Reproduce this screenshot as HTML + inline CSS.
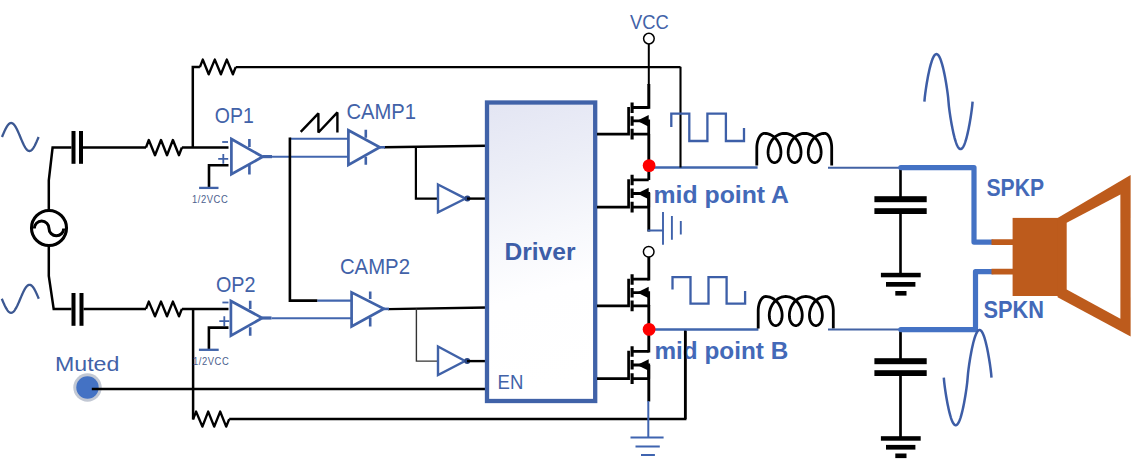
<!DOCTYPE html>
<html><head><meta charset="utf-8"><style>
html,body{margin:0;padding:0;background:#fff;}
svg{display:block;font-family:"Liberation Sans", sans-serif;}
</style></head><body>
<svg width="1131" height="459" viewBox="0 0 1131 459">
<rect width="1131" height="459" fill="#fff"/>
<polyline points="2.00,137.00 2.31,136.27 2.61,135.54 2.92,134.81 3.22,134.09 3.52,133.38 3.83,132.67 4.13,131.98 4.44,131.31 4.75,130.64 5.05,130.00 5.36,129.38 5.66,128.77 5.96,128.19 6.27,127.63 6.58,127.10 6.88,126.60 7.19,126.12 7.49,125.67 7.79,125.26 8.10,124.88 8.41,124.53 8.71,124.21 9.02,123.93 9.32,123.69 9.62,123.48 9.93,123.31 10.24,123.17 10.54,123.08 10.85,123.02 11.15,123.00 11.46,123.02 11.76,123.08 12.07,123.17 12.37,123.31 12.68,123.48 12.98,123.69 13.29,123.93 13.59,124.21 13.90,124.53 14.20,124.88 14.51,125.26 14.81,125.67 15.12,126.12 15.42,126.60 15.73,127.10 16.03,127.63 16.34,128.19 16.64,128.77 16.95,129.38 17.25,130.00 17.55,130.64 17.86,131.31 18.16,131.98 18.47,132.67 18.77,133.38 19.08,134.09 19.39,134.81 19.69,135.54 20.00,136.27 20.30,137.00 20.61,137.73 20.91,138.46 21.21,139.19 21.52,139.91 21.82,140.62 22.13,141.33 22.44,142.02 22.74,142.69 23.04,143.36 23.35,144.00 23.66,144.62 23.96,145.23 24.27,145.81 24.57,146.37 24.88,146.90 25.18,147.40 25.49,147.88 25.79,148.33 26.10,148.74 26.40,149.12 26.71,149.47 27.01,149.79 27.32,150.07 27.62,150.31 27.93,150.52 28.23,150.69 28.54,150.83 28.84,150.92 29.15,150.98 29.45,151.00 29.75,150.98 30.06,150.92 30.37,150.83 30.67,150.69 30.98,150.52 31.28,150.31 31.59,150.07 31.89,149.79 32.20,149.47 32.50,149.12 32.80,148.74 33.11,148.33 33.41,147.88 33.72,147.40 34.02,146.90 34.33,146.37 34.64,145.81 34.94,145.23 35.25,144.62 35.55,144.00 35.86,143.36 36.16,142.69 36.47,142.02 36.77,141.33 37.08,140.62 37.38,139.91 37.69,139.19 37.99,138.46 38.30,137.73 38.60,137.00" stroke="#3c5892" stroke-width="2.3" fill="none" stroke-linecap="butt" stroke-linejoin="round"/>
<polyline points="1.80,298.80 2.11,299.53 2.42,300.26 2.73,300.99 3.03,301.71 3.34,302.42 3.65,303.13 3.96,303.82 4.27,304.49 4.58,305.16 4.88,305.80 5.19,306.42 5.50,307.03 5.81,307.61 6.12,308.17 6.42,308.70 6.73,309.20 7.04,309.68 7.35,310.13 7.66,310.54 7.97,310.92 8.28,311.27 8.58,311.59 8.89,311.87 9.20,312.11 9.51,312.32 9.82,312.49 10.13,312.63 10.43,312.72 10.74,312.78 11.05,312.80 11.36,312.78 11.67,312.72 11.98,312.63 12.28,312.49 12.59,312.32 12.90,312.11 13.21,311.87 13.52,311.59 13.83,311.27 14.13,310.92 14.44,310.54 14.75,310.13 15.06,309.68 15.37,309.20 15.68,308.70 15.98,308.17 16.29,307.61 16.60,307.03 16.91,306.42 17.22,305.80 17.52,305.16 17.83,304.49 18.14,303.82 18.45,303.13 18.76,302.42 19.07,301.71 19.38,300.99 19.68,300.26 19.99,299.53 20.30,298.80 20.61,298.07 20.92,297.34 21.23,296.61 21.53,295.89 21.84,295.18 22.15,294.47 22.46,293.78 22.77,293.11 23.07,292.44 23.38,291.80 23.69,291.18 24.00,290.57 24.31,289.99 24.62,289.43 24.93,288.90 25.23,288.40 25.54,287.92 25.85,287.47 26.16,287.06 26.47,286.68 26.78,286.33 27.08,286.01 27.39,285.73 27.70,285.49 28.01,285.28 28.32,285.11 28.62,284.97 28.93,284.88 29.24,284.82 29.55,284.80 29.86,284.82 30.17,284.88 30.48,284.97 30.78,285.11 31.09,285.28 31.40,285.49 31.71,285.73 32.02,286.01 32.32,286.33 32.63,286.68 32.94,287.06 33.25,287.47 33.56,287.92 33.87,288.40 34.17,288.90 34.48,289.43 34.79,289.99 35.10,290.57 35.41,291.18 35.72,291.80 36.02,292.44 36.33,293.11 36.64,293.78 36.95,294.47 37.26,295.18 37.57,295.89 37.87,296.61 38.18,297.34 38.49,298.07 38.80,298.80" stroke="#3c5892" stroke-width="2.3" fill="none" stroke-linecap="butt" stroke-linejoin="round"/>
<path d="M71.5,147.6 H52.6 L48.8,180.3 V212 M83,147.5 H146" stroke="#000" stroke-width="2.5" fill="none" />
<path d="M48.8,244 V276 L53.7,309.1 H71.5 M83.5,309 H146" stroke="#000" stroke-width="2.5" fill="none" />
<circle cx="49" cy="228" r="17.5" stroke="#000" stroke-width="3.1" fill="none"/>
<path d="M34.3,228.4 A7.35,7.35 0 0 1 49,228.4 A7.35,7.35 0 0 0 63.7,228.4" stroke="#000" stroke-width="3.0" fill="none" />
<rect x="71.5" y="131" width="4" height="32.8" fill="#000"/>
<rect x="79" y="131" width="4" height="32.8" fill="#000"/>
<rect x="71.5" y="293" width="4" height="32.8" fill="#000"/>
<rect x="79.5" y="293" width="4" height="32.8" fill="#000"/>
<polyline points="146,147.5 148.8,140 155,155.2 161,140 167,155.2 172.9,140 179,155.2 181.9,147.5" stroke="#000" stroke-width="2.4" fill="none" stroke-linejoin="round"/>
<polyline points="146,308.9 148.8,301.6 155,316.3 161,301.6 167,316.3 172.9,301.6 179,316.3 181.9,308.9" stroke="#000" stroke-width="2.4" fill="none" stroke-linejoin="round"/>
<path d="M181.9,147.6 H228.5 M192.8,147.6 V67.1 H199.9" stroke="#000" stroke-width="2.5" fill="none" />
<polyline points="199.9,67.1 202.8,59.6 208.7,74.3 214.8,59.6 220.9,74.3 226.8,59.6 232.9,74.3 235.7,67.1" stroke="#000" stroke-width="2.4" fill="none" stroke-linejoin="round"/>
<path d="M235.7,67.1 H680.5" stroke="#000" stroke-width="2.4" fill="none" />
<path d="M181.9,308.9 H228.5 M193.1,308.9 V419.4" stroke="#000" stroke-width="2.5" fill="none" />
<polyline points="193,419.4 196.1,411.6 202.4,426.6 208.2,411.6 214.2,426.6 220.2,411.6 226.2,426.6 229.2,419.1" stroke="#000" stroke-width="2.4" fill="none" stroke-linejoin="round"/>
<path d="M229.2,419.1 H685.2 V329.4" stroke="#000" stroke-width="2.5" fill="none" />
<path d="M228.5,165.3 H209 V187.9" stroke="#000" stroke-width="2.6" fill="none" />
<path d="M199.1,187.9 H218.5" stroke="#4062a8" stroke-width="2.3" fill="none" />
<path d="M231.4,139.0 L262.7,156.8 L231.4,174.1 Z" stroke="#4062a8" stroke-width="2.7" fill="#fff" stroke-linejoin="miter"/>
<path d="M249.4,139 V147 M249.4,164.6 V174.4" stroke="#4062a8" stroke-width="2.6" fill="none"/>
<path d="M222.2,142 H228" stroke="#4062a8" stroke-width="1.8" fill="none" />
<path d="M218.2,158.8 H228.2 M223.3,154 V163.7" stroke="#4062a8" stroke-width="1.8" fill="none" />
<path d="M262.7,156.6 H272" stroke="#4062a8" stroke-width="3.2" fill="none" />
<path d="M272,156.7 H348.4" stroke="#4266ae" stroke-width="2.1" fill="none" />
<path d="M228.5,327.6 H208.9 V349.8" stroke="#000" stroke-width="2.6" fill="none" />
<path d="M198.9,349.8 H218.7" stroke="#4062a8" stroke-width="2.3" fill="none" />
<path d="M230.9,301.0 L262.2,318 L230.9,335.6 Z" stroke="#4062a8" stroke-width="2.7" fill="#fff" stroke-linejoin="miter"/>
<path d="M250.2,300.7 V309 M250.2,327.2 V335.8" stroke="#4062a8" stroke-width="2.6" fill="none"/>
<path d="M222.4,302.5 H228.5" stroke="#4062a8" stroke-width="1.8" fill="none" />
<path d="M219.3,321.1 H229.3 M224.3,316.3 V326" stroke="#4062a8" stroke-width="1.8" fill="none" />
<path d="M262.2,318 H271.5" stroke="#4062a8" stroke-width="3.2" fill="none" />
<path d="M271.5,318.2 H351.6" stroke="#4266ae" stroke-width="2.1" fill="none" />
<path d="M300.7,131.8 L318.4,113.3 V132.5 L337.4,112.4 V132.5" stroke="#000" stroke-width="2.4" fill="none" stroke-linejoin="bevel"/>
<path d="M290,138.7 H348.4" stroke="#4266ae" stroke-width="2.1" fill="none" />
<path d="M317.3,300.6 H351.6" stroke="#4266ae" stroke-width="2.1" fill="none" />
<path d="M289.9,137.6 V300.6 H317.3" stroke="#000" stroke-width="2.6" fill="none" />
<path d="M348.4,130.2 L379.8,147.3 L348.4,165.0 Z" stroke="#4062a8" stroke-width="2.7" fill="#fff" stroke-linejoin="miter"/>
<path d="M365.8,129.8 V137.7 M365.8,156.8 V164.7" stroke="#4062a8" stroke-width="2.6" fill="none"/>
<path d="M351.6,292.4 L383.9,308.8 L351.6,326.5 Z" stroke="#4062a8" stroke-width="2.7" fill="#fff" stroke-linejoin="miter"/>
<path d="M370.2,291.6 V299 M370.2,317.6 V326.5" stroke="#4062a8" stroke-width="2.6" fill="none"/>
<path d="M384,147.2 L487,145.7" stroke="#000" stroke-width="2.4" fill="none" />
<path d="M379.8,147.3 H385" stroke="#4062a8" stroke-width="2.6" fill="none" />
<path d="M388,309.1 L487,307.5" stroke="#000" stroke-width="2.4" fill="none" />
<path d="M383.9,308.9 H389" stroke="#4062a8" stroke-width="2.6" fill="none" />
<path d="M415.9,146.8 V198.6 H437.5" stroke="#000" stroke-width="2.2" fill="none" />
<path d="M438,184.5 L465.5,198.6 L438,212.4 Z" stroke="#4062a8" stroke-width="2.4" fill="#fff"/>
<circle cx="467.4" cy="198.6" r="3" fill="#2a4683"/>
<path d="M467,198.6 H487" stroke="#000" stroke-width="2.4" fill="none" />
<path d="M416.4,308.5 V361.1 H437.5" stroke="#333" stroke-width="1.4" fill="none" />
<path d="M438,346.5 L465,361 L438,375 Z" stroke="#4062a8" stroke-width="2.4" fill="#fff"/>
<circle cx="467.2" cy="361" r="3" fill="#2a4683"/>
<path d="M467,361.1 H487" stroke="#000" stroke-width="2.4" fill="none" />
<circle cx="87.5" cy="387.5" r="14.2" fill="#c2c8d4"/>
<circle cx="87.5" cy="387.5" r="11.2" fill="#4472c4"/>
<path d="M91.8,389 H487" stroke="#000" stroke-width="2.4" fill="none" />
<defs><linearGradient id="dg" x1="0" y1="0" x2="0.1" y2="1"><stop offset="0" stop-color="#e3e5f3"/><stop offset="0.25" stop-color="#eceef7"/><stop offset="0.5" stop-color="#f7f8fc"/><stop offset="0.68" stop-color="#fefeff"/><stop offset="1" stop-color="#ffffff"/></linearGradient></defs>
<rect x="487" y="102.5" width="108.2" height="298.5" fill="url(#dg)" stroke="#4062a8" stroke-width="4.3"/>
<path d="M597,134.2 H628.6 V107.0" stroke="#000" stroke-width="2.7" fill="none"/>
<path d="M632.1,102.5 V113.0 M632.1,116.2 V125.8 M632.1,128.7 V139.5" stroke="#000" stroke-width="3.1" fill="none"/>
<path d="M632.1,107.5 H648.7 M632.1,120.85 H648.7 V134.2 M632.1,134.2 H648.7" stroke="#000" stroke-width="2.8" fill="none"/>
<path d="M637.1,120.85 L648.7,115.05 L648.7,126.64999999999999 Z" fill="#000"/>
<path d="M597,207.2 H628.6 V179.3" stroke="#000" stroke-width="2.7" fill="none"/>
<path d="M632.1,174.8 V185.3 M632.1,188.5 V198.10000000000002 M632.1,201.7 V212.5" stroke="#000" stroke-width="3.1" fill="none"/>
<path d="M632.1,179.8 H648.7 M632.1,193.5 H648.7 V207.2 M632.1,207.2 H648.7" stroke="#000" stroke-width="2.8" fill="none"/>
<path d="M637.1,193.5 L648.7,187.7 L648.7,199.3 Z" fill="#000"/>
<path d="M597,305.9 H628.6 V278.7" stroke="#000" stroke-width="2.7" fill="none"/>
<path d="M632.1,274.2 V284.7 M632.1,287.9 V297.5 M632.1,300.4 V311.2" stroke="#000" stroke-width="3.1" fill="none"/>
<path d="M632.1,279.2 H648.7 M632.1,292.54999999999995 H648.7 V305.9 M632.1,305.9 H648.7" stroke="#000" stroke-width="2.8" fill="none"/>
<path d="M637.1,292.54999999999995 L648.7,286.74999999999994 L648.7,298.34999999999997 Z" fill="#000"/>
<path d="M597,378.7 H628.6 V350.8" stroke="#000" stroke-width="2.7" fill="none"/>
<path d="M632.1,346.3 V356.8 M632.1,360.0 V369.6 M632.1,373.2 V384.0" stroke="#000" stroke-width="3.1" fill="none"/>
<path d="M632.1,351.3 H648.7 M632.1,365.0 H648.7 V378.7 M632.1,378.7 H648.7" stroke="#000" stroke-width="2.8" fill="none"/>
<path d="M637.1,365.0 L648.7,359.2 L648.7,370.8 Z" fill="#000"/>
<path d="M648.8,44 V85" stroke="#000" stroke-width="2.0" fill="none" />
<path d="M648.8,84 V108.8" stroke="#000" stroke-width="3.0" fill="none" />
<path d="M648.8,134 V180" stroke="#000" stroke-width="2.9" fill="none" />
<path d="M648.8,193 V231.5" stroke="#000" stroke-width="2.9" fill="none" />
<path d="M647.5,230.5 H663" stroke="#3f62ab" stroke-width="2.0" fill="none" />
<path d="M663,212 V244.8 M671.9,216 V239.8 M680.8,221 V234.5" stroke="#3f62ab" stroke-width="1.9" fill="none" />
<path d="M648.8,257 V280.5" stroke="#000" stroke-width="2.9" fill="none" />
<path d="M648.8,305 V352.5" stroke="#000" stroke-width="2.9" fill="none" />
<path d="M648.8,365 V401.5" stroke="#000" stroke-width="2.9" fill="none" />
<path d="M648.3,401 V437.4" stroke="#3f64b0" stroke-width="2.0" fill="none" />
<path d="M630.5,437.4 H663.6 M635.5,446.4 H659.8 M641,455.1 H654.9" stroke="#3f64b0" stroke-width="2.0" fill="none" />
<circle cx="648.9" cy="38.6" r="5.3" stroke="#000" stroke-width="1.5" fill="#fff"/>
<circle cx="648.7" cy="251.8" r="5.3" stroke="#000" stroke-width="1.5" fill="#fff"/>
<path d="M648.8,167.5 H757.6" stroke="#4066ad" stroke-width="2.6" fill="none" />
<path d="M648.8,329.5 H758.4" stroke="#4066ad" stroke-width="2.6" fill="none" />
<path d="M680.5,66.8 V167.5" stroke="#000" stroke-width="2.1" fill="none" />
<path d="M685.2,331 V419" stroke="#000" stroke-width="2.4" fill="none" />
<circle cx="649.1" cy="165.6" r="6.4" fill="#ff0000"/>
<circle cx="649.1" cy="329.4" r="6.4" fill="#ff0000"/>
<path d="M671.3,127 V113.6 H689.3 V141 H707.4 V113.6 H725.9 V141 H744 V127.9" stroke="#3d5fa8" stroke-width="2.3" fill="none" />
<path d="M672.5,289.6 V277.1 H690.5 V303.6 H708.5 V277.1 H726.6 V303.6 H745.1 V291" stroke="#3d5fa8" stroke-width="2.3" fill="none" />
<polyline points="756.80,165.60 756.80,148.00 756.82,146.85 756.89,145.72 757.01,144.59 757.17,143.49 757.38,142.41 757.63,141.37 757.93,140.37 758.26,139.42 758.63,138.52 759.04,137.68 759.48,136.90 759.95,136.19 760.45,135.55 760.98,134.99 761.52,134.51 762.09,134.11 762.66,133.80 763.25,133.58 763.85,133.45 764.45,133.40 765.93,133.48 767.41,133.72 768.85,134.11 770.26,134.66 771.62,135.36 772.93,136.19 774.16,137.15 775.30,138.23 776.36,139.42 777.33,140.70 778.18,142.06 778.93,143.49 779.56,144.96 780.08,146.47 780.48,148.00 780.75,149.53 780.90,151.04 780.94,152.51 780.86,153.94 780.68,155.30 780.38,156.58 779.99,157.77 779.52,158.85 778.96,159.81 778.33,160.64 777.63,161.34 776.89,161.89 776.12,162.28 775.31,162.52 774.50,162.60 773.69,162.52 772.88,162.28 772.11,161.89 771.37,161.34 770.68,160.64 770.04,159.81 769.48,158.85 769.01,157.77 768.62,156.58 768.32,155.30 768.14,153.94 768.06,152.51 768.10,151.04 768.25,149.53 768.53,148.00 768.92,146.47 769.44,144.96 770.07,143.49 770.82,142.06 771.67,140.70 772.64,139.42 773.70,138.23 774.84,137.15 776.07,136.19 777.38,135.36 778.74,134.66 780.15,134.11 781.59,133.72 783.07,133.48 784.55,133.40 786.03,133.48 787.51,133.72 788.95,134.11 790.36,134.66 791.73,135.36 793.03,136.19 794.26,137.15 795.40,138.23 796.46,139.42 797.43,140.70 798.28,142.06 799.03,143.49 799.66,144.96 800.18,146.47 800.58,148.00 800.85,149.53 801.00,151.04 801.04,152.51 800.96,153.94 800.78,155.30 800.48,156.58 800.09,157.77 799.62,158.85 799.06,159.81 798.43,160.64 797.73,161.34 796.99,161.89 796.22,162.28 795.41,162.52 794.60,162.60 793.79,162.52 792.98,162.28 792.21,161.89 791.47,161.34 790.78,160.64 790.14,159.81 789.58,158.85 789.11,157.77 788.72,156.58 788.42,155.30 788.24,153.94 788.16,152.51 788.20,151.04 788.35,149.53 788.62,148.00 789.02,146.47 789.54,144.96 790.17,143.49 790.92,142.06 791.77,140.70 792.74,139.42 793.80,138.23 794.94,137.15 796.17,136.19 797.48,135.36 798.84,134.66 800.25,134.11 801.69,133.72 803.17,133.48 804.65,133.40 806.13,133.48 807.61,133.72 809.05,134.11 810.46,134.66 811.83,135.36 813.13,136.19 814.36,137.15 815.50,138.23 816.56,139.42 817.53,140.70 818.38,142.06 819.13,143.49 819.76,144.96 820.28,146.47 820.68,148.00 820.95,149.53 821.10,151.04 821.14,152.51 821.06,153.94 820.88,155.30 820.58,156.58 820.19,157.77 819.72,158.85 819.16,159.81 818.53,160.64 817.83,161.34 817.09,161.89 816.32,162.28 815.51,162.52 814.70,162.60 813.89,162.52 813.08,162.28 812.31,161.89 811.57,161.34 810.88,160.64 810.24,159.81 809.68,158.85 809.21,157.77 808.82,156.58 808.52,155.30 808.34,153.94 808.26,152.51 808.30,151.04 808.45,149.53 808.73,148.00 809.12,146.47 809.64,144.96 810.27,143.49 811.02,142.06 811.87,140.70 812.84,139.42 813.90,138.23 815.04,137.15 816.27,136.19 817.58,135.36 818.94,134.66 820.35,134.11 821.79,133.72 823.27,133.48 824.75,133.40 825.30,133.45 825.84,133.58 826.37,133.80 826.90,134.11 827.41,134.51 827.91,134.99 828.38,135.55 828.84,136.19 829.26,136.90 829.66,137.68 830.03,138.52 830.37,139.42 830.68,140.37 830.94,141.37 831.17,142.41 831.36,143.49 831.51,144.59 831.61,145.72 831.68,146.85 831.70,148.00 831.70,165.60" stroke="#000" stroke-width="2.8" fill="none" stroke-linejoin="round"/>
<polyline points="758.20,328.60 758.20,311.05 758.22,309.91 758.29,308.77 758.41,307.65 758.56,306.55 758.77,305.48 759.01,304.44 759.30,303.45 759.62,302.50 759.98,301.60 760.38,300.76 760.81,299.99 761.27,299.28 761.76,298.64 762.27,298.09 762.80,297.61 763.35,297.21 763.91,296.90 764.48,296.68 765.07,296.54 765.65,296.50 767.13,296.58 768.61,296.82 770.05,297.21 771.46,297.76 772.83,298.45 774.13,299.28 775.36,300.24 776.50,301.31 777.56,302.50 778.53,303.77 779.38,305.13 780.13,306.55 780.76,308.02 781.28,309.53 781.68,311.05 781.95,312.57 782.10,314.08 782.14,315.55 782.06,316.97 781.88,318.32 781.58,319.60 781.19,320.79 780.72,321.86 780.16,322.82 779.53,323.65 778.83,324.34 778.09,324.89 777.32,325.28 776.51,325.52 775.70,325.60 774.89,325.52 774.08,325.28 773.31,324.89 772.57,324.34 771.88,323.65 771.24,322.82 770.68,321.86 770.21,320.79 769.82,319.60 769.52,318.33 769.34,316.97 769.26,315.55 769.30,314.08 769.45,312.57 769.73,311.05 770.12,309.53 770.64,308.02 771.27,306.55 772.02,305.13 772.87,303.77 773.84,302.50 774.90,301.31 776.04,300.24 777.27,299.28 778.58,298.45 779.94,297.76 781.35,297.21 782.79,296.82 784.27,296.58 785.75,296.50 787.23,296.58 788.71,296.82 790.15,297.21 791.56,297.76 792.93,298.45 794.23,299.28 795.46,300.24 796.60,301.31 797.66,302.50 798.63,303.78 799.48,305.13 800.23,306.55 800.86,308.02 801.38,309.53 801.78,311.05 802.05,312.57 802.20,314.08 802.24,315.55 802.16,316.97 801.98,318.32 801.68,319.60 801.29,320.79 800.82,321.86 800.26,322.82 799.63,323.65 798.93,324.34 798.19,324.89 797.42,325.28 796.61,325.52 795.80,325.60 794.99,325.52 794.18,325.28 793.41,324.89 792.67,324.34 791.98,323.65 791.34,322.82 790.78,321.86 790.31,320.79 789.92,319.60 789.62,318.32 789.44,316.97 789.36,315.55 789.40,314.08 789.55,312.57 789.83,311.05 790.22,309.53 790.74,308.02 791.37,306.55 792.12,305.13 792.97,303.78 793.94,302.50 795.00,301.31 796.14,300.24 797.37,299.28 798.68,298.45 800.04,297.76 801.45,297.21 802.89,296.82 804.37,296.58 805.85,296.50 807.33,296.58 808.81,296.82 810.25,297.21 811.66,297.76 813.03,298.45 814.33,299.28 815.56,300.24 816.70,301.31 817.76,302.50 818.73,303.77 819.58,305.13 820.33,306.55 820.96,308.02 821.48,309.53 821.88,311.05 822.15,312.57 822.30,314.08 822.34,315.55 822.26,316.97 822.08,318.33 821.78,319.60 821.39,320.79 820.92,321.86 820.36,322.82 819.73,323.65 819.03,324.34 818.29,324.89 817.52,325.28 816.71,325.52 815.90,325.60 815.09,325.52 814.28,325.28 813.51,324.89 812.77,324.34 812.08,323.65 811.44,322.82 810.88,321.86 810.41,320.79 810.02,319.60 809.72,318.33 809.54,316.97 809.46,315.55 809.50,314.08 809.65,312.57 809.93,311.05 810.32,309.53 810.84,308.02 811.47,306.55 812.22,305.13 813.07,303.77 814.04,302.50 815.10,301.31 816.24,300.24 817.47,299.28 818.78,298.45 820.14,297.76 821.55,297.21 822.99,296.82 824.47,296.58 825.95,296.50 826.53,296.54 827.10,296.68 827.67,296.90 828.22,297.21 828.76,297.61 829.29,298.09 829.79,298.64 830.27,299.28 830.72,299.99 831.15,300.76 831.54,301.60 831.90,302.50 832.22,303.45 832.50,304.44 832.74,305.48 832.94,306.55 833.10,307.65 833.21,308.77 833.28,309.91 833.30,311.05 833.30,328.60" stroke="#000" stroke-width="2.8" fill="none" stroke-linejoin="round"/>
<path d="M828,167.7 H900" stroke="#4262a4" stroke-width="2.0" fill="none" />
<path d="M828,329.5 H900" stroke="#4262a4" stroke-width="2.0" fill="none" />
<path d="M900.5,168 V199 M900.5,211 V275" stroke="#000" stroke-width="2.6" fill="none" />
<path d="M900.5,329.5 V361 M900.5,373 V438" stroke="#000" stroke-width="2.7" fill="none" />
<rect x="874.4" y="196.2" width="52.3" height="6" fill="#000"/>
<rect x="874.4" y="208.2" width="52.3" height="5.8" fill="#000"/>
<rect x="880.9" y="272.8" width="39.8" height="4.5" fill="#000"/>
<rect x="886" y="282" width="29.4" height="4.7" fill="#000"/>
<rect x="895.3" y="291" width="11.2" height="4.6" fill="#000"/>
<rect x="874.4" y="358.2" width="52.3" height="6" fill="#000"/>
<rect x="874.4" y="370.2" width="52.3" height="5.8" fill="#000"/>
<rect x="880.9" y="436.20000000000005" width="39.8" height="4.5" fill="#000"/>
<rect x="886" y="444.9" width="29.4" height="4.7" fill="#000"/>
<rect x="895.3" y="453.5" width="11.2" height="4.6" fill="#000"/>
<path d="M900.8,167.6 H974 V242.1 H992" stroke="#4472c4" stroke-width="5.2" fill="none" stroke-linejoin="round" stroke-linecap="round"/>
<path d="M900.8,329.6 H975.5 V271.7 H992" stroke="#4472c4" stroke-width="5.2" fill="none" stroke-linejoin="round" stroke-linecap="round"/>
<path d="M991.5,242.2 H1013 M991.5,271.7 H1013" stroke="#bd5b1c" stroke-width="5.8"/>
<rect x="1012.6" y="217.9" width="54.1" height="78.1" fill="#bd5b1c"/>
<path d="M1057.6,218 L1130.6,174.9 L1130.6,336.5 L1057.6,297.3 Z" fill="#bd5b1c"/>
<path d="M1066.7,222.7 L1120.4,194.5 L1120.4,318.8 L1066.7,289.4 Z" fill="#fff"/>
<polyline points="924.40,101.60 924.80,97.12 925.20,93.80 925.61,90.83 926.01,88.08 926.41,85.49 926.81,83.04 927.21,80.70 927.61,78.47 928.01,76.35 928.42,74.32 928.82,72.39 929.22,70.55 929.62,68.81 930.02,67.16 930.42,65.60 930.83,64.14 931.23,62.78 931.63,61.51 932.03,60.34 932.43,59.26 932.83,58.29 933.24,57.41 933.64,56.64 934.04,55.97 934.44,55.40 934.84,54.93 935.25,54.57 935.65,54.31 936.05,54.15 936.45,54.10 936.85,54.15 937.25,54.31 937.65,54.57 938.06,54.93 938.46,55.40 938.86,55.97 939.26,56.64 939.66,57.41 940.06,58.29 940.47,59.26 940.87,60.34 941.27,61.51 941.67,62.78 942.07,64.14 942.48,65.60 942.88,67.16 943.28,68.81 943.68,70.55 944.08,72.39 944.48,74.32 944.88,76.35 945.29,78.47 945.69,80.70 946.09,83.04 946.49,85.49 946.89,88.08 947.29,90.83 947.70,93.80 948.10,97.12 948.50,101.60 948.90,106.08 949.30,109.40 949.70,112.37 950.11,115.12 950.51,117.71 950.91,120.16 951.31,122.50 951.71,124.73 952.12,126.85 952.52,128.88 952.92,130.81 953.32,132.65 953.72,134.39 954.12,136.04 954.52,137.60 954.93,139.06 955.33,140.42 955.73,141.69 956.13,142.86 956.53,143.94 956.93,144.91 957.34,145.79 957.74,146.56 958.14,147.23 958.54,147.80 958.94,148.27 959.35,148.63 959.75,148.89 960.15,149.05 960.55,149.10 960.95,149.05 961.35,148.89 961.75,148.63 962.16,148.27 962.56,147.80 962.96,147.23 963.36,146.56 963.76,145.79 964.16,144.91 964.57,143.94 964.97,142.86 965.37,141.69 965.77,140.42 966.17,139.06 966.57,137.60 966.98,136.04 967.38,134.39 967.78,132.65 968.18,130.81 968.58,128.88 968.99,126.85 969.39,124.73 969.79,122.50 970.19,120.16 970.59,117.71 970.99,115.12 971.39,112.37 971.80,109.40 972.20,106.08 972.60,101.60" stroke="#3d5da6" stroke-width="2.5" fill="none" stroke-linecap="butt" stroke-linejoin="round"/>
<polyline points="943.80,377.60 944.20,382.09 944.59,385.42 944.99,388.39 945.39,391.15 945.79,393.74 946.18,396.20 946.58,398.54 946.98,400.78 947.38,402.91 947.77,404.94 948.17,406.87 948.57,408.72 948.97,410.46 949.37,412.12 949.76,413.67 950.16,415.14 950.56,416.51 950.95,417.78 951.35,418.95 951.75,420.03 952.15,421.00 952.54,421.88 952.94,422.65 953.34,423.33 953.74,423.90 954.13,424.37 954.53,424.73 954.93,424.99 955.33,425.15 955.72,425.20 956.12,425.15 956.52,424.99 956.92,424.73 957.31,424.37 957.71,423.90 958.11,423.33 958.51,422.65 958.90,421.88 959.30,421.00 959.70,420.03 960.10,418.95 960.50,417.78 960.89,416.51 961.29,415.14 961.69,413.67 962.08,412.12 962.48,410.46 962.88,408.72 963.28,406.87 963.67,404.94 964.07,402.91 964.47,400.78 964.87,398.54 965.26,396.20 965.66,393.74 966.06,391.15 966.46,388.39 966.85,385.42 967.25,382.09 967.65,377.60 968.05,373.11 968.44,369.78 968.84,366.81 969.24,364.05 969.64,361.46 970.03,359.00 970.43,356.66 970.83,354.42 971.23,352.29 971.62,350.26 972.02,348.33 972.42,346.48 972.82,344.74 973.21,343.08 973.61,341.53 974.01,340.06 974.41,338.69 974.80,337.42 975.20,336.25 975.60,335.17 976.00,334.20 976.39,333.32 976.79,332.55 977.19,331.87 977.59,331.30 977.98,330.83 978.38,330.47 978.78,330.21 979.18,330.05 979.57,330.00 979.97,330.05 980.37,330.21 980.77,330.47 981.16,330.83 981.56,331.30 981.96,331.87 982.36,332.55 982.75,333.32 983.15,334.20 983.55,335.17 983.95,336.25 984.34,337.42 984.74,338.69 985.14,340.06 985.54,341.53 985.93,343.08 986.33,344.74 986.73,346.48 987.13,348.33 987.52,350.26 987.92,352.29 988.32,354.42 988.72,356.66 989.12,359.00 989.51,361.46 989.91,364.05 990.31,366.81 990.70,369.78 991.10,373.11 991.50,377.60" stroke="#3d5da6" stroke-width="2.5" fill="none" stroke-linecap="butt" stroke-linejoin="round"/>
<text x="214.8" y="122.9" font-size="21.6" textLength="39" lengthAdjust="spacingAndGlyphs" fill="#4262a8" font-family="Liberation Sans, sans-serif">OP1</text>
<text x="215.9" y="291.6" font-size="21.3" textLength="39.6" lengthAdjust="spacingAndGlyphs" fill="#4262a8" font-family="Liberation Sans, sans-serif">OP2</text>
<text x="346.4" y="118.9" font-size="21.4" textLength="69.6" lengthAdjust="spacingAndGlyphs" fill="#4262a8" font-family="Liberation Sans, sans-serif">CAMP1</text>
<text x="339.9" y="273.9" font-size="21.4" textLength="70.1" lengthAdjust="spacingAndGlyphs" fill="#4262a8" font-family="Liberation Sans, sans-serif">CAMP2</text>
<text x="630" y="28.8" font-size="19.6" textLength="38.7" lengthAdjust="spacingAndGlyphs" fill="#4262a8" font-family="Liberation Sans, sans-serif">VCC</text>
<text x="55" y="370.8" font-size="20" textLength="64.4" lengthAdjust="spacingAndGlyphs" fill="#4262a8" font-family="Liberation Sans, sans-serif">Muted</text>
<text transform="translate(191.9,203.2) scale(0.84,1)" font-size="11.2" letter-spacing="0.7" fill="#4d5f8e" font-family="Liberation Sans, sans-serif">1/2VCC</text>
<text transform="translate(192.9,365.2) scale(0.84,1)" font-size="11.2" letter-spacing="0.7" fill="#4d5f8e" font-family="Liberation Sans, sans-serif">1/2VCC</text>
<text x="504.5" y="259.9" font-size="24.7" font-weight="bold" textLength="71" lengthAdjust="spacingAndGlyphs" fill="#3d5ea8" font-family="Liberation Sans, sans-serif">Driver</text>
<text x="497.5" y="388.8" font-size="20.6" textLength="25.8" lengthAdjust="spacingAndGlyphs" fill="#4262a8" font-family="Liberation Sans, sans-serif">EN</text>
<text x="653.5" y="202.9" font-size="23" font-weight="bold" textLength="135.5" lengthAdjust="spacingAndGlyphs" fill="#4369b8" font-family="Liberation Sans, sans-serif">mid point A</text>
<text x="654.5" y="358.9" font-size="23" font-weight="bold" textLength="133.7" lengthAdjust="spacingAndGlyphs" fill="#4369b8" font-family="Liberation Sans, sans-serif">mid point B</text>
<text x="986.5" y="195.9" font-size="24.5" font-weight="bold" textLength="57.6" lengthAdjust="spacingAndGlyphs" fill="#4369b8" font-family="Liberation Sans, sans-serif">SPKP</text>
<text x="983.5" y="317.7" font-size="24.5" font-weight="bold" textLength="60.5" lengthAdjust="spacingAndGlyphs" fill="#4369b8" font-family="Liberation Sans, sans-serif">SPKN</text>
<path d="M685.2,331 V419" stroke="#000" stroke-width="2.4" fill="none" />
</svg>
</body></html>
